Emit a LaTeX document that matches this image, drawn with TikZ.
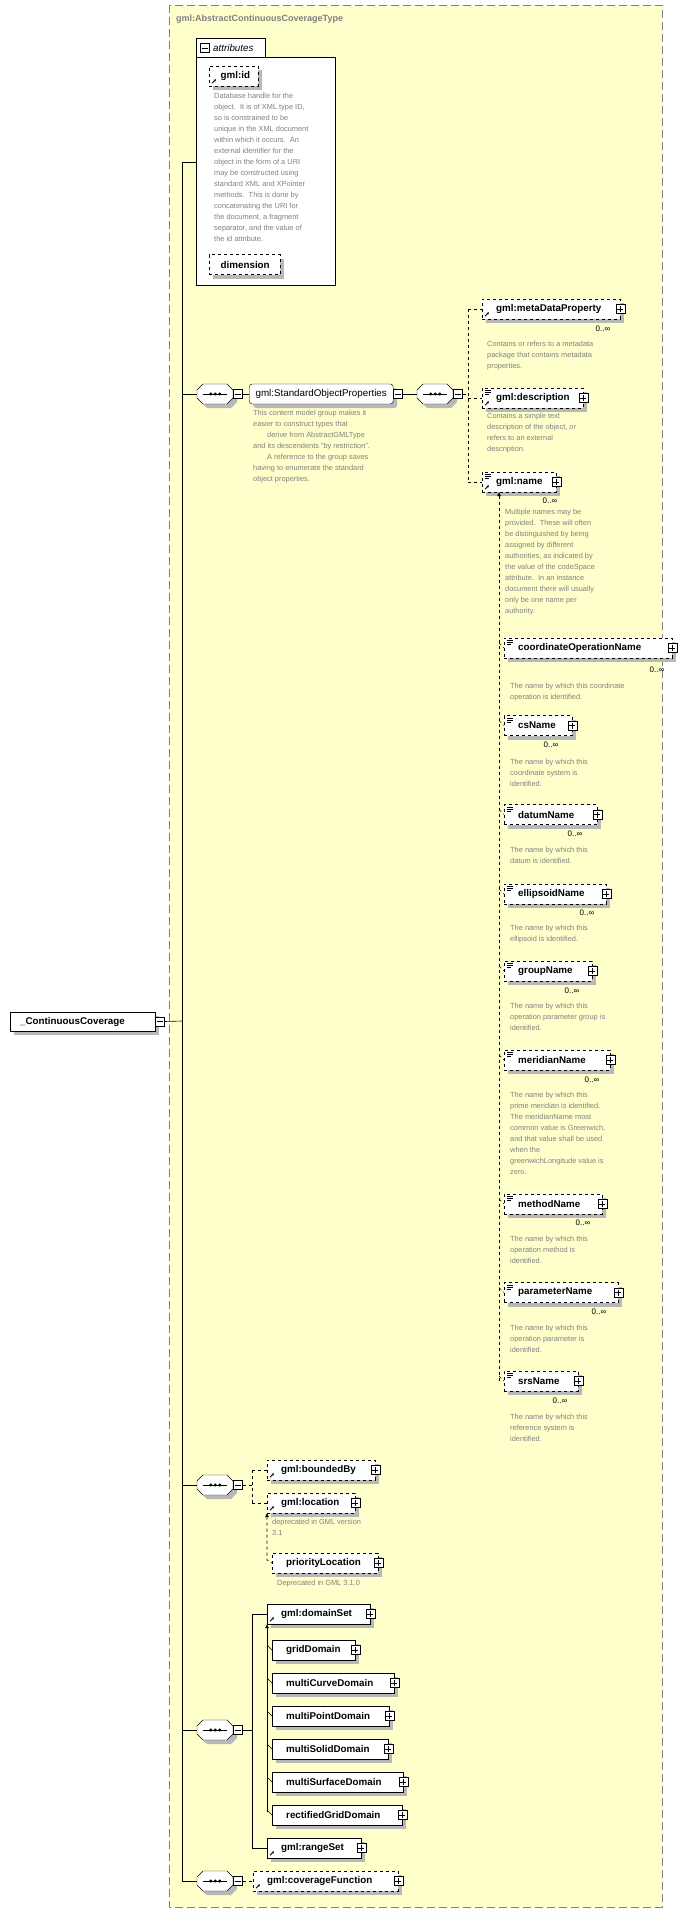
\documentclass[tikz,border=0pt]{standalone}
\usepackage{fontspec}
\setmainfont{Liberation Sans}
\usetikzlibrary{shapes.misc,shadows,calc,arrows.meta}
\definecolor{ybg}{RGB}{255,255,204}
\definecolor{dgray}{RGB}{128,128,128}
\tikzset{
  shd/.style={drop shadow={shadow xshift=4pt,shadow yshift=-4pt,fill=black!28,opacity=1}},
  elembox/.style={draw,fill=white,shd,anchor=west,minimum height=20pt,inner sep=0pt,font=\bfseries\fontsize{9.8}{11}\selectfont,align=left},
  opt/.style={dashed},
  desc/.style={anchor=north west,inner sep=0pt,align=left,text=dgray,font=\fontsize{7.4}{11}\selectfont},
  mult/.style={anchor=north,inner sep=0pt,font=\fontsize{8}{10}\selectfont},
  conn/.style={line width=0.6pt},
}
\newcommand\pbox[1]{\draw[fill=white] ($(#1.east)+(-4.5,-4.5)$) rectangle ($(#1.east)+(4.5,4.5)$);
  \draw ($(#1.east)+(-3,0)$)--($(#1.east)+(3,0)$) ($(#1.east)+(0,-3)$)--($(#1.east)+(0,3)$);}
\newcommand\minbox[2]{\node[draw,fill=white,minimum size=9pt,inner sep=0pt,anchor=west] (#2) at ($(#1.east)+(0,0)$) {};
  \draw ($(#2.center)+(-3,0)$)--($(#2.center)+(3,0)$);}
\newcommand\elem[6]{\node[elembox,#6,minimum width=#4pt,text width=#4pt-14pt] (#1) at (#2,#3) {\hspace*{7pt}#5};\pbox{#1}}
\newcommand\refic[1]{\draw[-{Latex[length=2.2pt,width=2.5pt]},line width=0.8pt] ($(#1.south west)+(3,-3)$) -- ++(4,-4);}
\newcommand\txtic[1]{\draw[line width=0.5pt] ($(#1.north west)+(3,2.5)$) -- ++(6,0) ($(#1.north west)+(3,4.5)$) -- ++(6,0) ($(#1.north west)+(3,6.5)$) -- ++(4,0);}
\newcommand\octpath[3]{(#1,#2-4+#3) -- (#1+6,#2-10+#3) -- (#1+30,#2-10+#3) -- (#1+36,#2-4+#3) -- (#1+36,#2+4+#3) -- (#1+30,#2+10+#3) -- (#1+6,#2+10+#3) -- (#1,#2+4+#3) -- cycle}
\newcommand\seqn[4]{%
  \fill[black!28] \octpath{#2+4}{#3}{4};
  \draw[fill=white] \octpath{#2}{#3}{0};
  \node[minimum width=36pt,minimum height=20pt,inner sep=0pt,anchor=west] (#1) at (#2,#3) {};
  \draw[line width=0.8pt] ($(#1.center)+(-12,0)$) -- ($(#1.center)+(12,0)$);
  \foreach \d in {-4.5,0,4.5}{\fill ($(#1.center)+(\d,0)$) circle (1.7pt);}
  \minbox{#1}{#4}}
\begin{document}
\begin{tikzpicture}[x=1pt,y=-1pt]
\useasboundingbox (0,0) rectangle (700,1913);
% outer type box
\draw[dgray,dashed,dash pattern=on 8pt off 4pt,fill=ybg] (169,5) rectangle (662,1907);
\node[anchor=west,inner sep=0pt,text=dgray,font=\bfseries\fontsize{9}{11}\selectfont] (title) at (176,19) {gml:AbstractContinuousCoverageType};
% attributes
\draw[fill=white] (196,38) rectangle (265,57);
\draw[fill=white] (196,57) rectangle (335,285);
\node[draw,fill=white,minimum size=9pt,inner sep=0pt] (attm) at (205,48) {};
\draw (202,48)--(208,48);
\node[anchor=west,inner sep=0pt,font=\itshape\fontsize{9.8}{11}\selectfont] (attl) at (213,48) {attributes};
\node[elembox,opt,minimum width=49pt,text width=40pt] (gid) at (209,76) {\hspace*{7pt}gml:id};\refic{gid}
\node[desc] (giddesc) at (214,93) {Database handle for the\\object.\ \ It is of XML type ID,\\so is constrained to be\\unique in the XML document\\within which it occurs.\ \ An\\external identifier for the\\object in the form of a URI\\may be constructed using\\standard XML and XPointer\\methods.\ \ This is done by\\concatenating the URI for\\the document, a fragment\\separator, and the value of\\the id attribute.};
\node[elembox,opt,minimum width=71pt,text width=62pt] (dim) at (209,264.5) {\hspace*{7pt}dimension};
% root
\node[elembox,minimum width=145pt,minimum height=19pt,text width=135pt] (root) at (10,1021.5) {\hspace*{5pt}\_ContinuousCoverage};
\minbox{root}{rootm}
\coordinate (mtop) at (182,162);
\coordinate (mbot) at (182,1881);
\draw[conn] (rootm.east) -- (182,1021);
\draw[conn] (mtop) -- (mbot);
\draw[conn] (mtop) -- (196,162);
% sequence 1
\seqn{s1}{197}{394}{s1m}
\draw[conn] (182,394) -- (s1.west);
\node[draw,fill=white,shd,rounded corners=3pt,anchor=west,minimum height=20pt,minimum width=144pt,inner sep=2pt,font=\fontsize{9.8}{11}\selectfont] (sop) at (249,394) {gml:StandardObjectProperties};
\minbox{sop}{sopm}
\draw[conn] (s1m.east) -- (sop.west);
\node[desc] (sopd) at (253,410) {This content model group makes it\\easier to construct types that\\\hspace*{14pt}derive from AbstractGMLType\\and its descendents "by restriction".\\\hspace*{14pt}A reference to the group saves\\having to enumerate the standard\\object properties.};
\seqn{s1b}{417}{394}{s1bm}
\draw[conn] (sopm.east) -- (s1b.west);
\elem{mdp}{482}{309}{138}{gml:metaDataProperty}{opt}\refic{mdp}
\node[mult] (mdpm) at (603,326) {0..∞};
\node[desc] (mdpd) at (487,341) {Contains or refers to a metadata\\package that contains metadata\\properties.};
\elem{dsc}{482}{398}{101}{gml:description}{opt}\refic{dsc}\txtic{dsc}
\node[desc] (dscd) at (487,413) {Contains a simple text\\description of the object, or\\refers to an external\\description.};
\elem{nam}{482}{482}{74}{gml:name}{opt}\refic{nam}\txtic{nam}
\node[mult] (namm) at (550,498) {0..∞};
\node[desc] (namd) at (505,509) {Multiple names may be\\provided.\ \ These will often\\be distinguished by being\\assigned by different\\authorities, as indicated by\\the value of the codeSpace\\attribute.\ \ In an instance\\document there will usually\\only be one name per\\authority.};
\draw[conn,dashed] (s1bm.east) -- (468,394);
\draw[conn,dashed] (468,309) -- (468,482);
\draw[conn,dashed] (468,309) -- (mdp.west);
\draw[conn,dashed] (468,398) -- (dsc.west);
\draw[conn,dashed] (468,482) -- (nam.west);
% substitution group of gml:name
\coordinate (nbot) at (499,1381);
\draw[conn,dashed,{Latex[length=4pt,width=4pt]}-] (499,492) -- (nbot);
\foreach \n/\y/\w/\t/\my/\mx/\dy/\d in {
 con/648/168/coordinateOperationName/667/657/683/{The name by which this coordinate\\operation is identified.},
 csn/725.5/68/csName/742/551/759/{The name by which this\\coordinate system is\\identified.},
 dtn/814.5/93/datumName/831/575/847/{The name by which this\\datum is identified.},
 eln/894/102/ellipsoidName/910/587/925/{The name by which this\\ellipsoid is identified.},
 grn/971/88/groupName/988/572/1003/{The name by which this\\operation parameter group is\\identified.},
 mer/1060/106/meridianName/1077/592/1092/{The name by which this\\prime meridian is identified.\\The meridianName most\\common value is Greenwich,\\and that value shall be used\\when the\\greenwichLongitude value is\\zero.},
 met/1204/98/methodName/1220/583/1236/{The name by which this\\operation method is\\identified.},
 par/1292.5/114/parameterName/1309/599/1325/{The name by which this\\operation parameter is\\identified.},
 srs/1381/74/srsName/1398/560/1414/{The name by which this\\reference system is\\identified.}}{
 \elem{\n}{504}{\y}{\w}{\t}{opt}\txtic{\n}
 \node[mult] (\n m) at (\mx,\my) {0..∞};
 \node[desc] (\n d) at (510,\dy) {\d};
 \draw[conn,dashed] (499,\y-5) -- (\n.west);
}
% sequence 2
\seqn{s2}{197}{1485}{s2m}
\draw[conn] (182,1485) -- (s2.west);
\elem{bnd}{267}{1470}{108}{gml:boundedBy}{opt}\refic{bnd}
\elem{loc}{267}{1503}{88}{gml:location}{opt}\refic{loc}
\node[desc] (locd) at (272,1519) {deprecated in GML version\\3.1};
\elem{pri}{272}{1563}{106}{priorityLocation}{opt}
\node[desc] (prid) at (277,1580) {Deprecated in GML 3.1.0};
\draw[conn,dashed] (s2m.east) -- (252,1485);
\draw[conn,dashed] (252,1470) -- (252,1503);
\draw[conn,dashed] (252,1470) -- (bnd.west);
\draw[conn,dashed] (252,1503) -- (loc.west);
\draw[conn,dashed,{Latex[length=4pt,width=4pt]}-] (267,1513) -- (267,1560) -- (pri.west);
% sequence 3
\seqn{s3}{197}{1730}{s3m}
\draw[conn] (182,1730) -- (s3.west);
\elem{dom}{267}{1614}{103}{gml:domainSet}{}\refic{dom}
\elem{rng}{267}{1848}{94}{gml:rangeSet}{}\refic{rng}
\draw[conn] (s3m.east) -- (252,1730);
\draw[conn] (252,1614) -- (dom.west);
\draw[conn] (252,1614) -- (252,1848) -- (rng.west);
\draw[conn,{Latex[length=4pt,width=4pt]}-] (267,1624) -- (267,1812);
\foreach \n/\y/\w/\t in {grd/1650/83/gridDomain, mcd/1683/122/multiCurveDomain, mpd/1716/117/multiPointDomain, msd/1749/116/multiSolidDomain, msf/1782/131/multiSurfaceDomain, rgd/1815/130/rectifiedGridDomain}{
 \elem{\n}{272}{\y}{\w}{\t}{}
 \draw[conn] (267,\y-5) -- (\n.west);
}
% sequence 4
\seqn{s4}{197}{1881}{s4m}
\draw[conn] (182,1881) -- (s4.west);
\elem{cvf}{253}{1881}{145}{gml:coverageFunction}{opt}\refic{cvf}
\draw[conn,dashed] (s4m.east) -- (cvf.west);
\end{tikzpicture}
\end{document}
